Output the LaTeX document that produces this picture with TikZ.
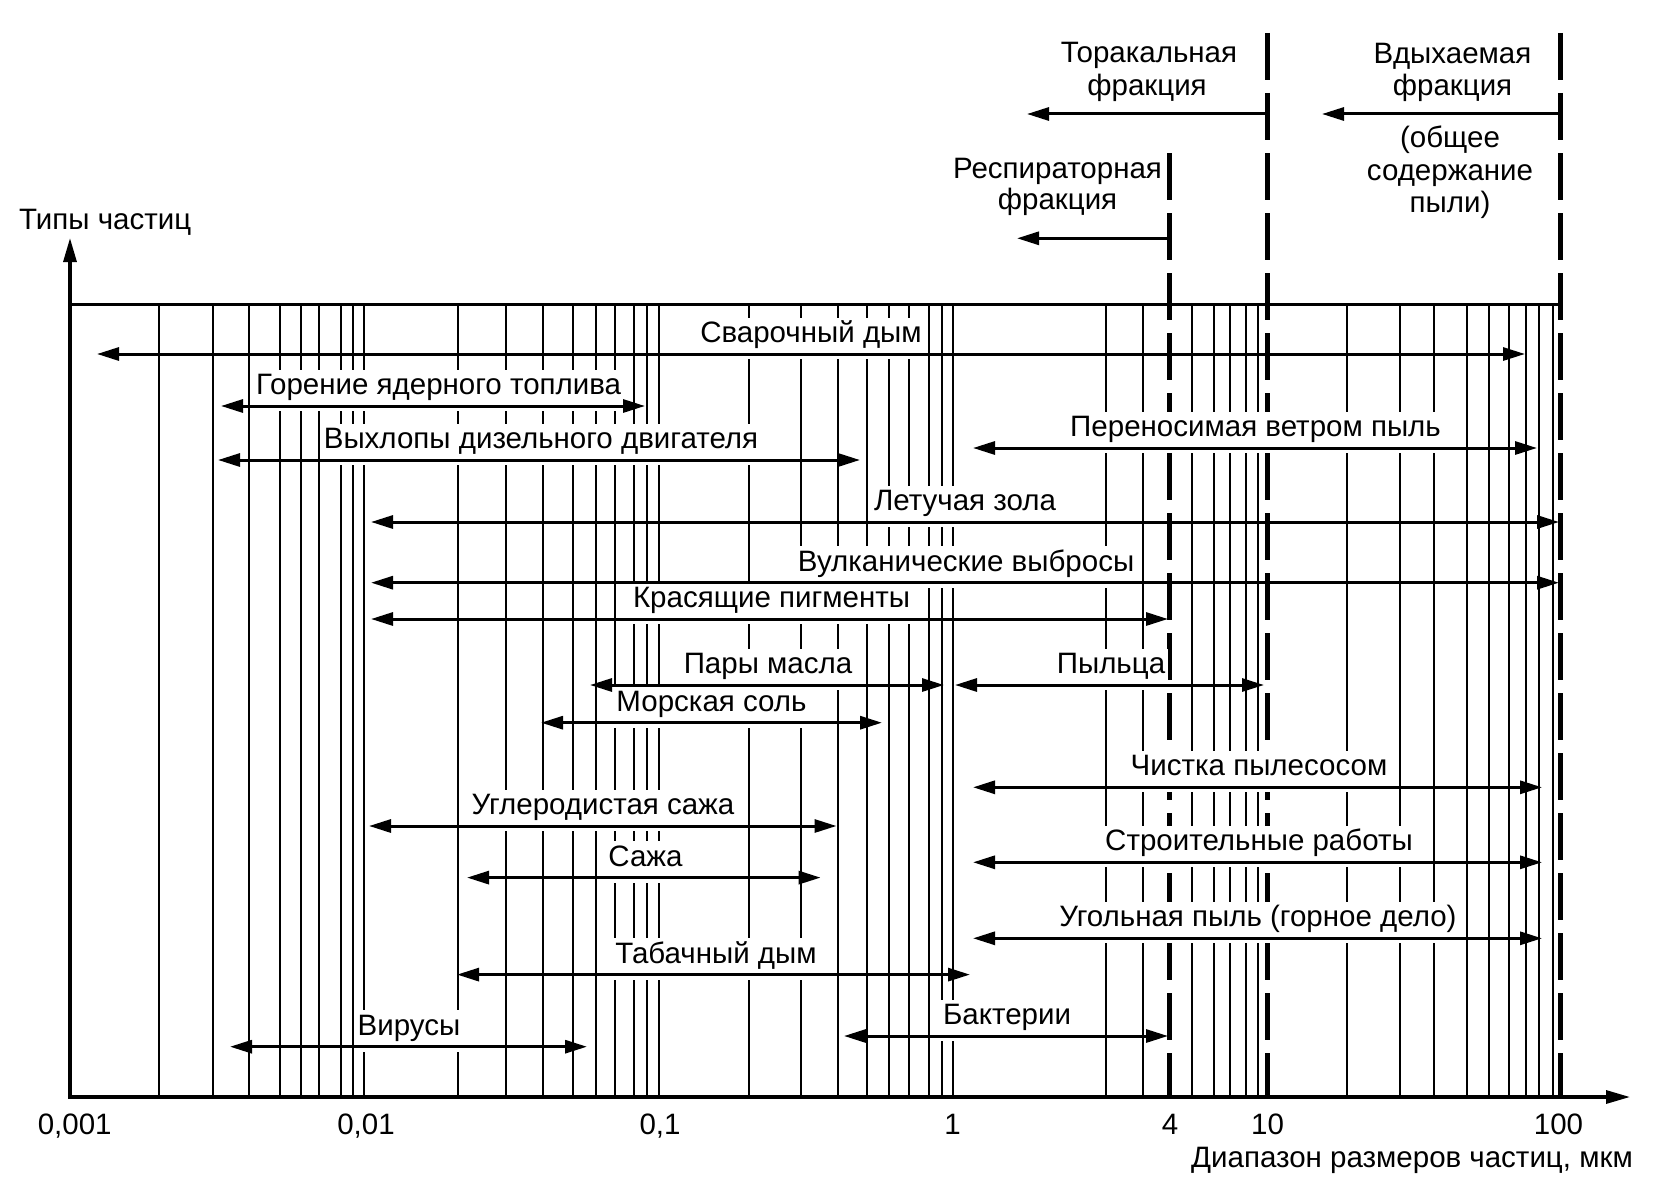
\documentclass[tikz,border=0pt]{standalone}
\usepackage{fontspec}
\setmainfont{Liberation Sans}
\usetikzlibrary{arrows.meta}
\begin{document}
\begin{tikzpicture}[x=1pt,y=-1pt,
  gridline/.style={line width=2pt},
  axisline/.style={line width=3.2pt, line join=miter, {Triangle[length=24pt,width=13pt]}-{Triangle[length=24pt,width=13pt]}},
  dbl/.style={line width=3pt, {Triangle[length=22pt,width=13pt]}-{Triangle[length=22pt,width=13pt]}},
  sgl/.style={line width=3pt, -{Triangle[length=22pt,width=13pt]}},
  fracline/.style={line width=5.5pt, dash pattern=on 47pt off 13pt},
  lbl/.style={font=\fontsize{29.5}{34}\selectfont, inner xsep=3pt, inner ysep=0pt, text height=25pt, text depth=16.5pt, fill=white, anchor=base},
  txt/.style={font=\fontsize{29.5}{34}\selectfont, inner sep=0pt, anchor=base}
]
\useasboundingbox (0,0) rectangle (1654,1196);
\fill[white] (0,0) rectangle (1654,1196);

% grid lines
\foreach \x in {159.3,212.7,249.3,280,300.7,319.3,341,353.3,364.3,
                457.7,506,543.3,573.3,595.7,615,634,647.3,659,
                749.3,800.7,837.7,867.3,889.3,909.3,929,941.7,952.7,
                1105.7,1142.7,1191.7,1213.7,1230,1245.5,1258.3,
                1347.3,1400,1434.3,1466.7,1489.3,1509.3,1526,1539.3,1552.7}
  \draw[gridline] (\x,304) -- (\x,1097);
\draw[line width=3pt] (70,304) -- (1561,304);

% fraction boundaries
\draw[fracline] (1169.3,153) -- (1169.3,1097);
\draw[fracline] (1267.7,33) -- (1267.7,1097);
\draw[fracline] (1560.7,33) -- (1560.7,1097);

% axes
\coordinate (ytip) at (70,238);
\coordinate (O) at (70,1097);
\coordinate (xtip) at (1630,1097);
\draw[axisline] (ytip) -- (O) -- (xtip);

% labels with white boxes
\node[lbl] (l1) at (811,342.5) {Сварочный дым};
\node[lbl] (l2) at (438.6,394.5) {Горение ядерного топлива};
\node[lbl] (l3) at (541,448.5) {Выхлопы дизельного двигателя};
\node[lbl] (l4) at (1255.5,436.5) {Переносимая ветром пыль};
\node[lbl] (l5) at (965,510.5) {Летучая зола};
\node[lbl] (l6) at (966,571.2) {Вулканические выбросы};
\node[lbl] (l7) at (771.5,607.5) {Красящие пигменты};
\node[lbl] (l8) at (768,673.5) {Пары масла};
\node[lbl] (l9) at (1111,673.5) {Пыльца};
\node[lbl] (l10) at (711.5,711.2) {Морская соль};
\node[lbl] (l11) at (1259,775.8) {Чистка пылесосом};
\node[lbl] (l12) at (603,814.5) {Углеродистая сажа};
\node[lbl] (l13) at (1259,850.8) {Строительные работы};
\node[lbl] (l14) at (645.5,866.1) {Сажа};
\node[lbl] (l15) at (1258,926.8) {Угольная пыль (горное дело)};
\node[lbl] (l16) at (716,963.1) {Табачный дым};
\node[lbl] (l17) at (409,1035.2) {Вирусы};
\node[lbl] (l18) at (1007,1024.5) {Бактерии};

% range arrows
\coordinate (a1l) at (97,354);     \coordinate (a1r) at (1525,354);
\coordinate (a2l) at (221,406);    \coordinate (a2r) at (645,406);
\coordinate (a3l) at (218,460);    \coordinate (a3r) at (860,460);
\coordinate (a4l) at (973,448);    \coordinate (a4r) at (1537,448);
\coordinate (a5l) at (371,522);    \coordinate (a5r) at (1559,522);
\coordinate (a6l) at (371,582.7);  \coordinate (a6r) at (1559,582.7);
\coordinate (a7l) at (371,619);    \coordinate (a7r) at (1168,619);
\coordinate (a8l) at (590,685);    \coordinate (a8r) at (944,685);
\coordinate (a9l) at (955,685);    \coordinate (a9r) at (1264,685);
\coordinate (a10l) at (541,722.7); \coordinate (a10r) at (882,722.7);
\coordinate (a11l) at (973,787.3); \coordinate (a11r) at (1542,787.3);
\coordinate (a12l) at (369,826);   \coordinate (a12r) at (836.5,826);
\coordinate (a13l) at (973,862.3); \coordinate (a13r) at (1542,862.3);
\coordinate (a14l) at (467,877.6); \coordinate (a14r) at (820.6,877.6);
\coordinate (a15l) at (973,938.3); \coordinate (a15r) at (1542,938.3);
\coordinate (a16l) at (457,974.6); \coordinate (a16r) at (970,974.6);
\coordinate (a17l) at (230,1046.7);\coordinate (a17r) at (587,1046.7);
\coordinate (a18l) at (844,1036);  \coordinate (a18r) at (1168,1036);
\foreach \i in {1,...,18} \draw[dbl] (a\i l) -- (a\i r);

% fraction labels and arrows
\node[txt] (tor1) at (1149,63) {Торакальная};
\node[txt] (tor2) at (1147,96) {фракция};
\node[txt] (res1) at (1057.5,178.3) {Респираторная};
\node[txt] (res2) at (1057.5,209.5) {фракция};
\node[txt] (inh1) at (1452.5,64) {Вдыхаемая};
\node[txt] (inh2) at (1452.5,96) {фракция};
\node[txt] (inh3) at (1450,148) {(общее};
\node[txt] (inh4) at (1450,180) {содержание};
\node[txt] (inh5) at (1450,212.5) {пыли)};
\coordinate (torS) at (1267.7,114); \coordinate (torE) at (1027,114);
\coordinate (inhS) at (1560.7,114); \coordinate (inhE) at (1322,114);
\coordinate (resS) at (1169.3,238.3); \coordinate (resE) at (1017,238.3);
\draw[sgl] (torS) -- (torE);
\draw[sgl] (inhS) -- (inhE);
\draw[sgl] (resS) -- (resE);

% axis labels
\node[txt, anchor=base west] (ylab) at (19,229) {Типы частиц};
\node[txt] (t1) at (74.7,1134) {0,001};
\node[txt] (t2) at (366,1134) {0,01};
\node[txt] (t3) at (660,1134) {0,1};
\node[txt] (t4) at (952.5,1134) {1};
\node[txt] (t5) at (1170,1134) {4};
\node[txt] (t6) at (1267.5,1134) {10};
\node[txt] (t7) at (1558.5,1134) {100};
\node[txt, anchor=base east] (xlab) at (1633,1167) {Диапазон размеров частиц, мкм};
\end{tikzpicture}
\end{document}
